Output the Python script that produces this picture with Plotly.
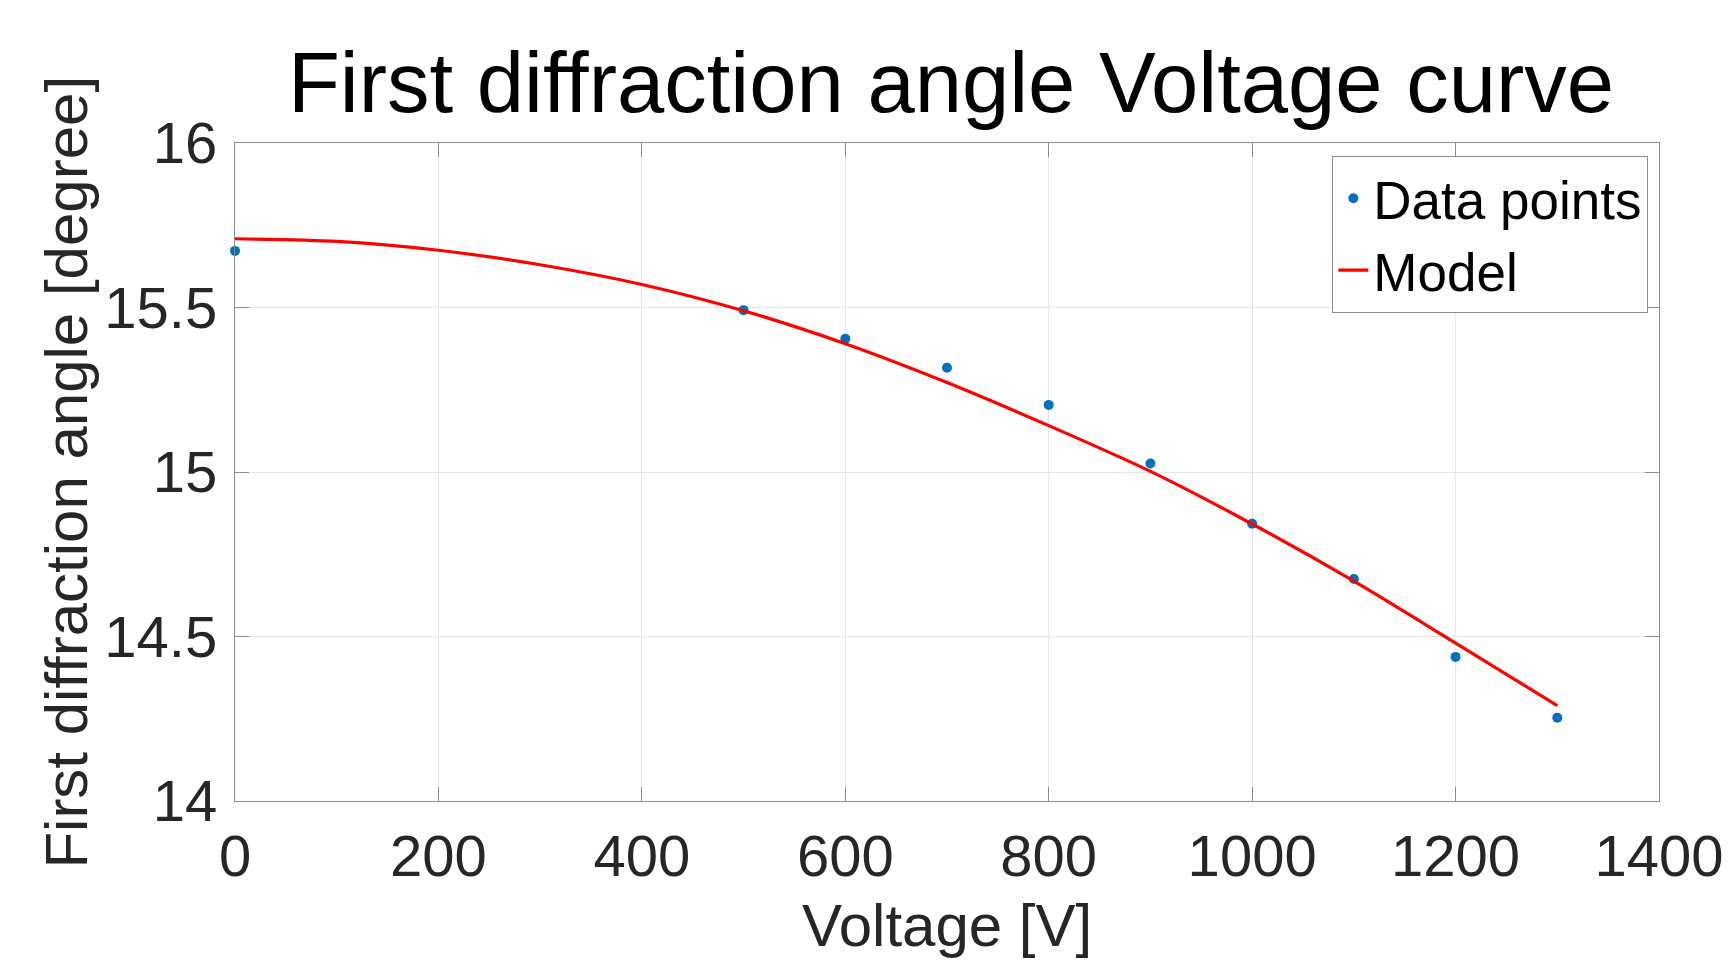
import plotly.graph_objects as go

# Data points
voltage = [0, 500, 600, 700, 800, 900, 1000, 1100, 1200, 1300]
angle = [15.672, 15.492, 15.405, 15.317, 15.204, 15.026, 14.843, 14.675, 14.438, 14.253]

# Model curve
model_voltage = [0, 100, 200, 300, 400, 500, 600, 700, 800, 900, 1000, 1100, 1200, 1300]
model_angle = [15.709, 15.701, 15.674, 15.630, 15.570, 15.490, 15.390, 15.272,
               15.141, 15.002, 14.842, 14.668, 14.480, 14.290]

x_ticks = [0, 200, 400, 600, 800, 1000, 1200, 1400]
y_ticks = [14, 14.5, 15, 15.5, 16]
y_tick_text = ["14", "14.5", "15", "15.5", "16"]

FONT = "Liberation Sans, Arial, Helvetica, sans-serif"
W, H = 1736, 961
L, R, T, B = 235, 72, 143, 160

fig = go.Figure()
fig.add_trace(go.Scatter(
    x=voltage, y=angle, mode="markers", name="Data points",
    marker=dict(color="#0072BD", size=10, symbol="circle"),
    cliponaxis=False,
))
fig.add_trace(go.Scatter(
    x=model_voltage, y=model_angle, mode="lines", name="Model",
    line=dict(color="#ff0000", width=3.2, shape="spline", smoothing=0.8),
))

axis_common = dict(
    showline=True, linecolor="#8c8c8c", linewidth=1.3, mirror="ticks",
    ticks="inside", ticklen=14, tickwidth=1.3, tickcolor="#8c8c8c",
    showgrid=True, gridcolor="#e6e6e6", gridwidth=1,
    zeroline=False,
    tickfont=dict(family=FONT, size=58, color="#262626"),
)

fig.update_xaxes(range=[0, 1400], tickvals=x_ticks, ticklabelstandoff=4, **axis_common)
fig.update_yaxes(range=[14, 16], tickvals=y_ticks, ticktext=y_tick_text,
                 ticklabelstandoff=5, **axis_common)

plot_w = W - L - R
plot_h = H - T - B

annotations = [
    dict(text="Voltage [V]", xref="paper", yref="paper",
         x=0.5, y=-(925.0 - (H - B)) / plot_h,
         xanchor="center", yanchor="middle", showarrow=False,
         font=dict(family=FONT, size=60, color="#262626")),
    dict(text="First diffraction angle [degree]", xref="paper", yref="paper",
         x=(65 - L) / plot_w, y=0.5, textangle=-90,
         xanchor="center", yanchor="middle", showarrow=False,
         font=dict(family=FONT, size=60, color="#262626")),
]

fig.update_layout(
    width=W, height=H,
    margin=dict(l=L, r=R, t=T, b=B, pad=0),
    paper_bgcolor="white", plot_bgcolor="white",
    title=dict(text="First diffraction angle Voltage curve",
               x=951.0 / W, xanchor="center",
               y=1 - 82.6 / H, yanchor="middle", yref="container",
               font=dict(family=FONT, size=85, color="black")),
    showlegend=True,
    legend=dict(
        x=1 - (1664 - 1653) / plot_w, y=1 - (156 - T) / plot_h,
        xanchor="right", yanchor="top",
        bgcolor="white", bordercolor="#8c8c8c", borderwidth=1.3,
        font=dict(family=FONT, size=53, color="black"),
        tracegroupgap=0, itemwidth=30,
    ),
    annotations=annotations,
)

fig.write_html("out.html", config={"displayModeBar": False},
               post_script="document.body.style.margin='0px';")
